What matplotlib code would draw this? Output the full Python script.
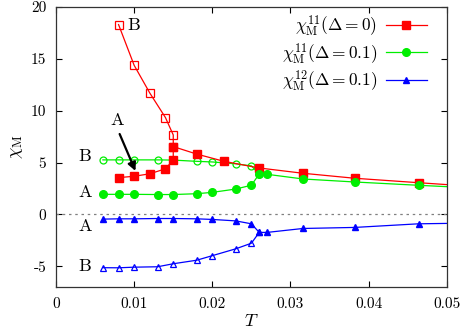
import matplotlib
matplotlib.use("Agg")
import matplotlib.pyplot as plt

plt.rcParams['font.family'] = 'serif'
plt.rcParams['font.serif'] = ['cmr10', 'DejaVu Serif']
plt.rcParams['mathtext.fontset'] = 'cm'
plt.rcParams['axes.formatter.use_mathtext'] = True

# chi^11, Delta = 0 : branch A (filled) and branch B (open)
T_red_A = [0.008, 0.010, 0.012, 0.014, 0.015, 0.015, 0.018, 0.0215, 0.026, 0.0316, 0.0382, 0.0464, 0.056]
chi_red_A = [3.55, 3.68, 3.92, 4.40, 5.26, 6.54, 5.82, 5.12, 4.48, 3.97, 3.49, 3.06, 2.57]
T_red_B = [0.008, 0.010, 0.012, 0.014, 0.015, 0.015]
chi_red_B = [18.3, 14.37, 11.7, 9.34, 7.66, 6.54]

# chi^11, Delta = 0.1
T_green_A = [0.006, 0.008, 0.010, 0.013, 0.015, 0.018, 0.020, 0.023, 0.025, 0.026, 0.027, 0.0316, 0.0382, 0.0464, 0.056]
chi_green_A = [1.94, 1.94, 1.94, 1.92, 1.92, 2.00, 2.13, 2.45, 2.82, 3.90, 3.87, 3.42, 3.13, 2.81, 2.46]
T_green_B = [0.006, 0.008, 0.010, 0.013, 0.015, 0.018, 0.020, 0.023, 0.025, 0.026]
chi_green_B = [5.26, 5.26, 5.26, 5.26, 5.24, 5.12, 5.06, 4.88, 4.68, 3.90]

# chi^12, Delta = 0.1
T_blue_A = [0.006, 0.008, 0.010, 0.013, 0.015, 0.018, 0.020, 0.023, 0.025, 0.026, 0.027, 0.0316, 0.0382, 0.0464, 0.056]
chi_blue_A = [-0.45, -0.42, -0.42, -0.39, -0.39, -0.42, -0.48, -0.62, -0.90, -1.73, -1.73, -1.35, -1.25, -0.90, -0.80]
T_blue_B = [0.006, 0.008, 0.010, 0.013, 0.015, 0.018, 0.020, 0.023, 0.025, 0.026]
chi_blue_B = [-5.13, -5.14, -5.08, -5.04, -4.75, -4.41, -3.97, -3.31, -2.77, -1.73]

x_ticks = [0, 0.01, 0.02, 0.03, 0.04, 0.05]
x_labels = ['0', '0.01', '0.02', '0.03', '0.04', '0.05']
y_ticks = [-5, 0, 5, 10, 15, 20]
y_labels = ['-5', '0', '5', '10', '15', '20']

red = '#ff0000'
green = '#00ee00'
blue = '#0000ff'

fig = plt.figure(figsize=(4.63, 3.30), dpi=100)
ax = fig.add_axes([0.121, 0.130, 0.844, 0.849])

ax.axhline(0, color='gray', linestyle=(0, (2, 3)), linewidth=0.9)

ax.plot(T_red_B, chi_red_B, color=red, lw=0.9, marker='s', ms=5.5, mfc='none', mew=0.9)
ax.plot(T_green_B, chi_green_B, color=green, lw=0.9, marker='o', ms=5, mfc='none', mew=0.9)
ax.plot(T_blue_B, chi_blue_B, color=blue, lw=0.9, marker='^', ms=5, mfc='none', mew=0.9)

ax.plot(T_red_A, chi_red_A, color=red, lw=0.9, marker='s', ms=5.5,
        label=r'$\chi_{\rm M}^{11}(\Delta=0)$')
ax.plot(T_green_A, chi_green_A, color=green, lw=0.9, marker='o', ms=5.5,
        label=r'$\chi_{\rm M}^{11}(\Delta=0.1)$')
ax.plot(T_blue_A, chi_blue_A, color=blue, lw=0.9, marker='^', ms=5,
        label=r'$\chi_{\rm M}^{12}(\Delta=0.1)$')

# branch labels
ax.text(0.0091, 18.2, 'B', fontsize=13, va='center', ha='left')
for y, s in [(5.57, 'B'), (2.1, 'A'), (-1.12, 'A'), (-5.0, 'B')]:
    ax.text(0.0037, y, s, fontsize=13, va='center', ha='center')
ax.text(0.0078, 9.1, 'A', fontsize=13, va='center', ha='center')
ax.annotate('', xy=(0.0103, 3.95), xytext=(0.0080, 8.0),
            arrowprops=dict(arrowstyle='-|>', color='black', lw=1.6, mutation_scale=12))

ax.set_xlim(0, 0.05)
ax.set_ylim(-7, 20)
ax.set_xticks(x_ticks)
ax.set_xticklabels(x_labels)
ax.set_yticks(y_ticks)
ax.set_yticklabels(y_labels)
ax.tick_params(direction='in', top=True, right=True, labelsize=11, length=4, width=0.8, pad=7)
ax.set_xlabel(r'$T$', fontsize=13, labelpad=2)
ax.set_ylabel(r'$\chi_{\rm M}$', fontsize=13, labelpad=4)
for sp in ax.spines.values():
    sp.set_linewidth(0.9)
    sp.set_color('#333333')

leg = ax.legend(loc='upper right', frameon=False, markerfirst=False, fontsize=12.5,
                handlelength=2.35, handletextpad=0.5, labelspacing=0.15,
                borderpad=0.1, borderaxespad=0.1, bbox_to_anchor=(0.957, 0.99))

fig.savefig('out.png', dpi=100)
